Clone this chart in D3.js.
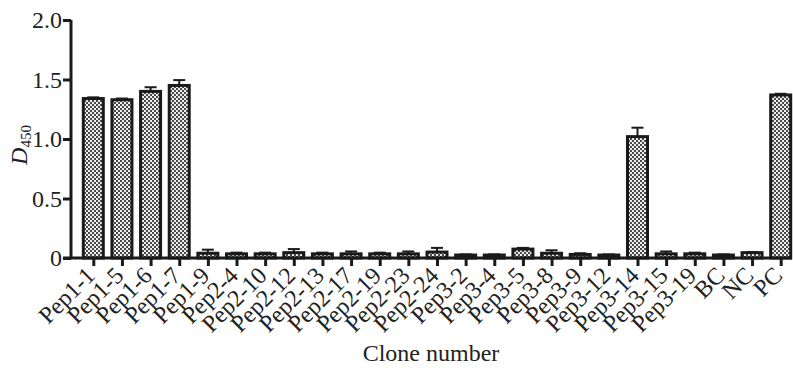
<!DOCTYPE html>
<html>
<head>
<meta charset="utf-8">
<script src="https://cdn.jsdelivr.net/npm/d3@7"></script>
<style>
  body { margin: 0; background: #fff; }
  svg { display: block; font-family: "Liberation Serif", "Times New Roman", serif; }
</style>
</head>
<body>
<svg id="chart" width="793" height="368"></svg>
<script>
// 克隆名称
var clones = ["Pep1-1","Pep1-5","Pep1-6","Pep1-7","Pep1-9","Pep2-4","Pep2-10","Pep2-12",
  "Pep2-13","Pep2-17","Pep2-19","Pep2-23","Pep2-24","Pep3-2","Pep3-4","Pep3-5","Pep3-8",
  "Pep3-9","Pep3-12","Pep3-14","Pep3-15","Pep3-19","BC","NC","PC"];
// D450 平均值
var means = [1.34,1.33,1.40,1.45,0.04,0.035,0.035,0.045,
  0.035,0.035,0.035,0.035,0.05,0.025,0.025,0.075,0.04,
  0.03,0.025,1.02,0.035,0.035,0.025,0.045,1.37];
// 误差
var errors = [0.01,0.01,0.035,0.045,0.03,0.01,0.01,0.03,
  0.01,0.02,0.01,0.02,0.035,0.005,0.005,0.01,0.025,
  0.01,0.005,0.075,0.02,0.01,0.005,0.005,0.01];
var yTicks = [0, 0.5, 1.0, 1.5, 2.0];

var svg = d3.select("#chart");
var data = clones.map(function(c, i){ return {name: c, v: means[i], e: errors[i]}; });

var x = d3.scalePoint().domain(clones).range([93.3, 780.7]);
var y = d3.scaleLinear().domain([0, 2]).range([258, 20]);
var barW = 20;
var ink = "#1a1a1a";

// 网格填充
var defs = svg.append("defs");
var pat = defs.append("pattern")
  .attr("id", "checker")
  .attr("patternUnits", "userSpaceOnUse")
  .attr("width", 4).attr("height", 4);
pat.append("rect").attr("width", 4).attr("height", 4).attr("fill", "#eee");
pat.append("rect").attr("width", 2).attr("height", 2).attr("fill", "#4a4a4a");
pat.append("rect").attr("x", 2).attr("y", 2).attr("width", 2).attr("height", 2).attr("fill", "#4a4a4a");

// 柱子
svg.selectAll(".bar")
  .data(data)
  .enter().append("rect")
  .attr("class", "bar")
  .attr("x", function(d){ return x(d.name) - barW / 2; })
  .attr("y", function(d){ return y(d.v); })
  .attr("width", barW)
  .attr("height", function(d){ return y(0) - y(d.v); })
  .attr("fill", "url(#checker)")
  .attr("stroke", ink)
  .attr("stroke-width", 3);

// 误差线
var err = svg.selectAll(".err")
  .data(data)
  .enter().append("g")
  .attr("class", "err")
  .attr("stroke", ink)
  .attr("stroke-width", 2);
err.append("line")
  .attr("x1", function(d){ return x(d.name); })
  .attr("x2", function(d){ return x(d.name); })
  .attr("y1", function(d){ return y(d.v); })
  .attr("y2", function(d){ return y(d.v + d.e); });
err.append("line")
  .attr("x1", function(d){ return x(d.name) - 6; })
  .attr("x2", function(d){ return x(d.name) + 6; })
  .attr("y1", function(d){ return y(d.v + d.e); })
  .attr("y2", function(d){ return y(d.v + d.e); });

// Y轴
var yAxis = d3.axisLeft(y)
  .tickValues(yTicks)
  .tickSize(8)
  .tickPadding(1)
  .tickFormat(function(v){ return v === 0 ? "0" : d3.format(".1f")(v); });
var gy = svg.append("g")
  .attr("transform", "translate(71,0)")
  .call(yAxis);
gy.select(".domain").attr("stroke", ink).attr("stroke-width", 3)
  .attr("d", "M0," + y(2) + "V" + y(0));
gy.selectAll(".tick line").attr("stroke", ink).attr("stroke-width", 3);
gy.selectAll(".tick text")
  .attr("font-family", "Liberation Serif")
  .attr("font-size", 24)
  .attr("fill", "#222");

// X轴
var xAxis = d3.axisBottom(x).tickSize(8).tickFormat("");
var gx = svg.append("g")
  .attr("transform", "translate(0," + y(0) + ")")
  .call(xAxis);
gx.select(".domain").attr("stroke", ink).attr("stroke-width", 3)
  .attr("d", "M63,0H792");
gx.selectAll(".tick line").attr("stroke", ink).attr("stroke-width", 3);

svg.append("g").selectAll("text")
  .data(clones)
  .enter().append("text")
  .attr("transform", function(d){ return "translate(" + (x(d) + 3) + "," + (y(0) + 19) + ") rotate(-45)"; })
  .attr("text-anchor", "end")
  .attr("font-size", 24)
  .attr("fill", "#222")
  .text(function(d){ return d; });

// 轴标题
svg.append("text")
  .attr("x", 431).attr("y", 361)
  .attr("text-anchor", "middle")
  .attr("font-size", 24)
  .attr("fill", "#222")
  .text("Clone number");

var yl = svg.append("text")
  .attr("transform", "translate(27,145) rotate(-90)")
  .attr("text-anchor", "middle")
  .attr("font-size", 24)
  .attr("fill", "#222");
yl.append("tspan").attr("font-style", "italic").text("D");
yl.append("tspan").attr("font-size", 15).attr("dy", 4).text("450");
</script>
</body>
</html>
